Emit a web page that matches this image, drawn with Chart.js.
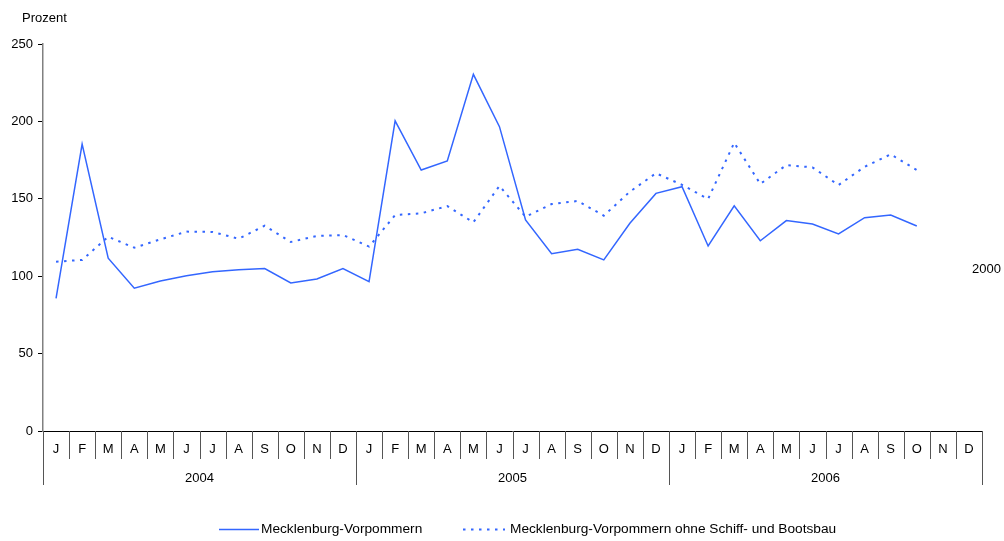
<!DOCTYPE html>
<html>
<head>
<meta charset="utf-8">
<script src="https://cdn.jsdelivr.net/npm/chart.js@4/dist/chart.umd.min.js"></script>
<style>
  html, body { margin: 0; padding: 0; background: #fff; }
  #wrap { width: 1004px; height: 541px; position: relative; }
</style>
</head>
<body>
<div id="wrap"><canvas id="c" width="1004" height="541"></canvas></div>
<script>
const years = ['2004', '2005', '2006'];
const months = ['J', 'F', 'M', 'A', 'M', 'J', 'J', 'A', 'S', 'O', 'N', 'D'];
const yTicks = [0, 50, 100, 150, 200, 250];
const seriesNames = ['Mecklenburg-Vorpommern', 'Mecklenburg-Vorpommern ohne Schiff- und Bootsbau'];
const mvTotal = [
  85.7, 185.4, 111.6, 92.2, 96.9, 100.3, 102.9, 104.2, 104.9, 95.6, 98.2, 104.9,
  96.5, 200.3, 168.6, 174.4, 230.4, 196.6, 136.3, 114.5, 117.4, 110.5, 134.2, 153.5,
  157.8, 119.5, 145.5, 122.9, 135.9, 133.7, 127.3, 137.8, 139.5, 132.4, null, null
];
const mvOhneSchiff = [
  109.4, 110.5, 125.5, 118.4, 123.8, 128.8, 128.6, 124.2, 132.6, 122.1, 126.0, 126.6,
  119.1, 139.5, 140.6, 145.3, 134.8, 158.3, 138.4, 146.6, 148.6, 139.1, 154.6, 166.5,
  159.0, 149.9, 186.2, 159.6, 171.8, 170.3, 158.9, 170.7, 178.7, 168.6, null, null
];
const yAxisTitle = 'Prozent';
const baseNote = '2000';

const categories = [];
years.forEach(y => months.forEach(m => categories.push(m + ' ' + y)));

const FAMILY = '"Liberation Sans", Arial, sans-serif';
const FONT = '13px ' + FAMILY;
const LEGEND_FONT = '13.7px ' + FAMILY;
const BLUE = '#3366FF';

const multiAxis = {
  id: 'multiAxis',
  afterDraw(chart) {
    const ctx = chart.ctx;
    const xs = chart.scales.x;
    const area = chart.chartArea;
    const n = categories.length;
    const step = (area.right - area.left) / n;
    const edge = i => (i === n ? xs.getPixelForValue(n - 1) + step / 2 : xs.getPixelForValue(i) - step / 2);
    ctx.save();
    ctx.strokeStyle = '#000';
    ctx.lineWidth = 1;
    ctx.beginPath();
    ctx.moveTo(area.left, Math.round(area.bottom) + 0.5);
    ctx.lineTo(area.right, Math.round(area.bottom) + 0.5);
    ctx.stroke();
    ctx.strokeStyle = '#555';
    for (let i = 0; i <= n; i++) {
      const x = Math.round(edge(i)) + 0.5;
      const isYear = i % 12 === 0;
      ctx.beginPath();
      ctx.moveTo(x, area.bottom);
      ctx.lineTo(x, area.bottom + (isYear ? 54 : 28));
      ctx.stroke();
    }
    ctx.fillStyle = '#000';
    ctx.font = FONT;
    ctx.textAlign = 'center';
    ctx.textBaseline = 'middle';
    for (let i = 0; i < n; i++) {
      ctx.fillText(months[i % 12], xs.getPixelForValue(i), area.bottom + 18);
    }
    years.forEach((y, k) => {
      const cx = (edge(k * 12) + edge(k * 12 + 12)) / 2;
      ctx.fillText(y, cx, area.bottom + 47);
    });
    ctx.textAlign = 'left';
    ctx.fillText(yAxisTitle, 22, 18);
    ctx.textAlign = 'right';
    ctx.fillText(baseNote, 1001, 269);
    const ly = 529.5;
    ctx.font = LEGEND_FONT;
    ctx.textAlign = 'left';
    const legendPos = [
      { x0: 219, len: 40, tx: 261 },
      { x0: 463, len: 42, tx: 510 }
    ];
    chart.data.datasets.forEach((ds, k) => {
      const p = legendPos[k];
      ctx.strokeStyle = ds.borderColor;
      ctx.lineWidth = ds.borderWidth;
      ctx.setLineDash(ds.borderDash || []);
      ctx.beginPath();
      ctx.moveTo(p.x0, ly);
      ctx.lineTo(p.x0 + p.len, ly);
      ctx.stroke();
      ctx.setLineDash([]);
      ctx.fillStyle = '#000';
      ctx.fillText(ds.label, p.tx, ly);
    });
    ctx.restore();
  }
};

new Chart(document.getElementById('c'), {
  type: 'line',
  data: {
    labels: categories,
    datasets: [
      {
        label: seriesNames[0],
        data: mvTotal,
        borderColor: BLUE,
        borderWidth: 1.5,
        pointRadius: 0,
        tension: 0,
        fill: false
      },
      {
        label: seriesNames[1],
        data: mvOhneSchiff,
        borderColor: BLUE,
        borderWidth: 2,
        borderDash: [2.5, 5.5],
        pointRadius: 0,
        tension: 0,
        fill: false
      }
    ]
  },
  options: {
    responsive: false,
    animation: false,
    layout: { padding: { left: 0, right: 22, top: 44, bottom: 110 } },
    plugins: { legend: { display: false }, tooltip: { enabled: false } },
    scales: {
      x: {
        type: 'category',
        offset: true,
        display: false
      },
      y: {
        min: 0,
        max: 250,
        afterBuildTicks: s => { s.ticks = yTicks.map(v => ({ value: v })); },
        afterFit: s => { s.width = 43; },
        ticks: {
          color: '#000',
          font: { family: FAMILY, size: 13 },
          padding: 5
        },
        grid: {
          drawOnChartArea: false,
          drawTicks: true,
          tickLength: 5,
          color: '#000'
        },
        border: { color: '#808080', width: 1.5 }
      }
    }
  },
  plugins: [multiAxis]
});
</script>
</body>
</html>
